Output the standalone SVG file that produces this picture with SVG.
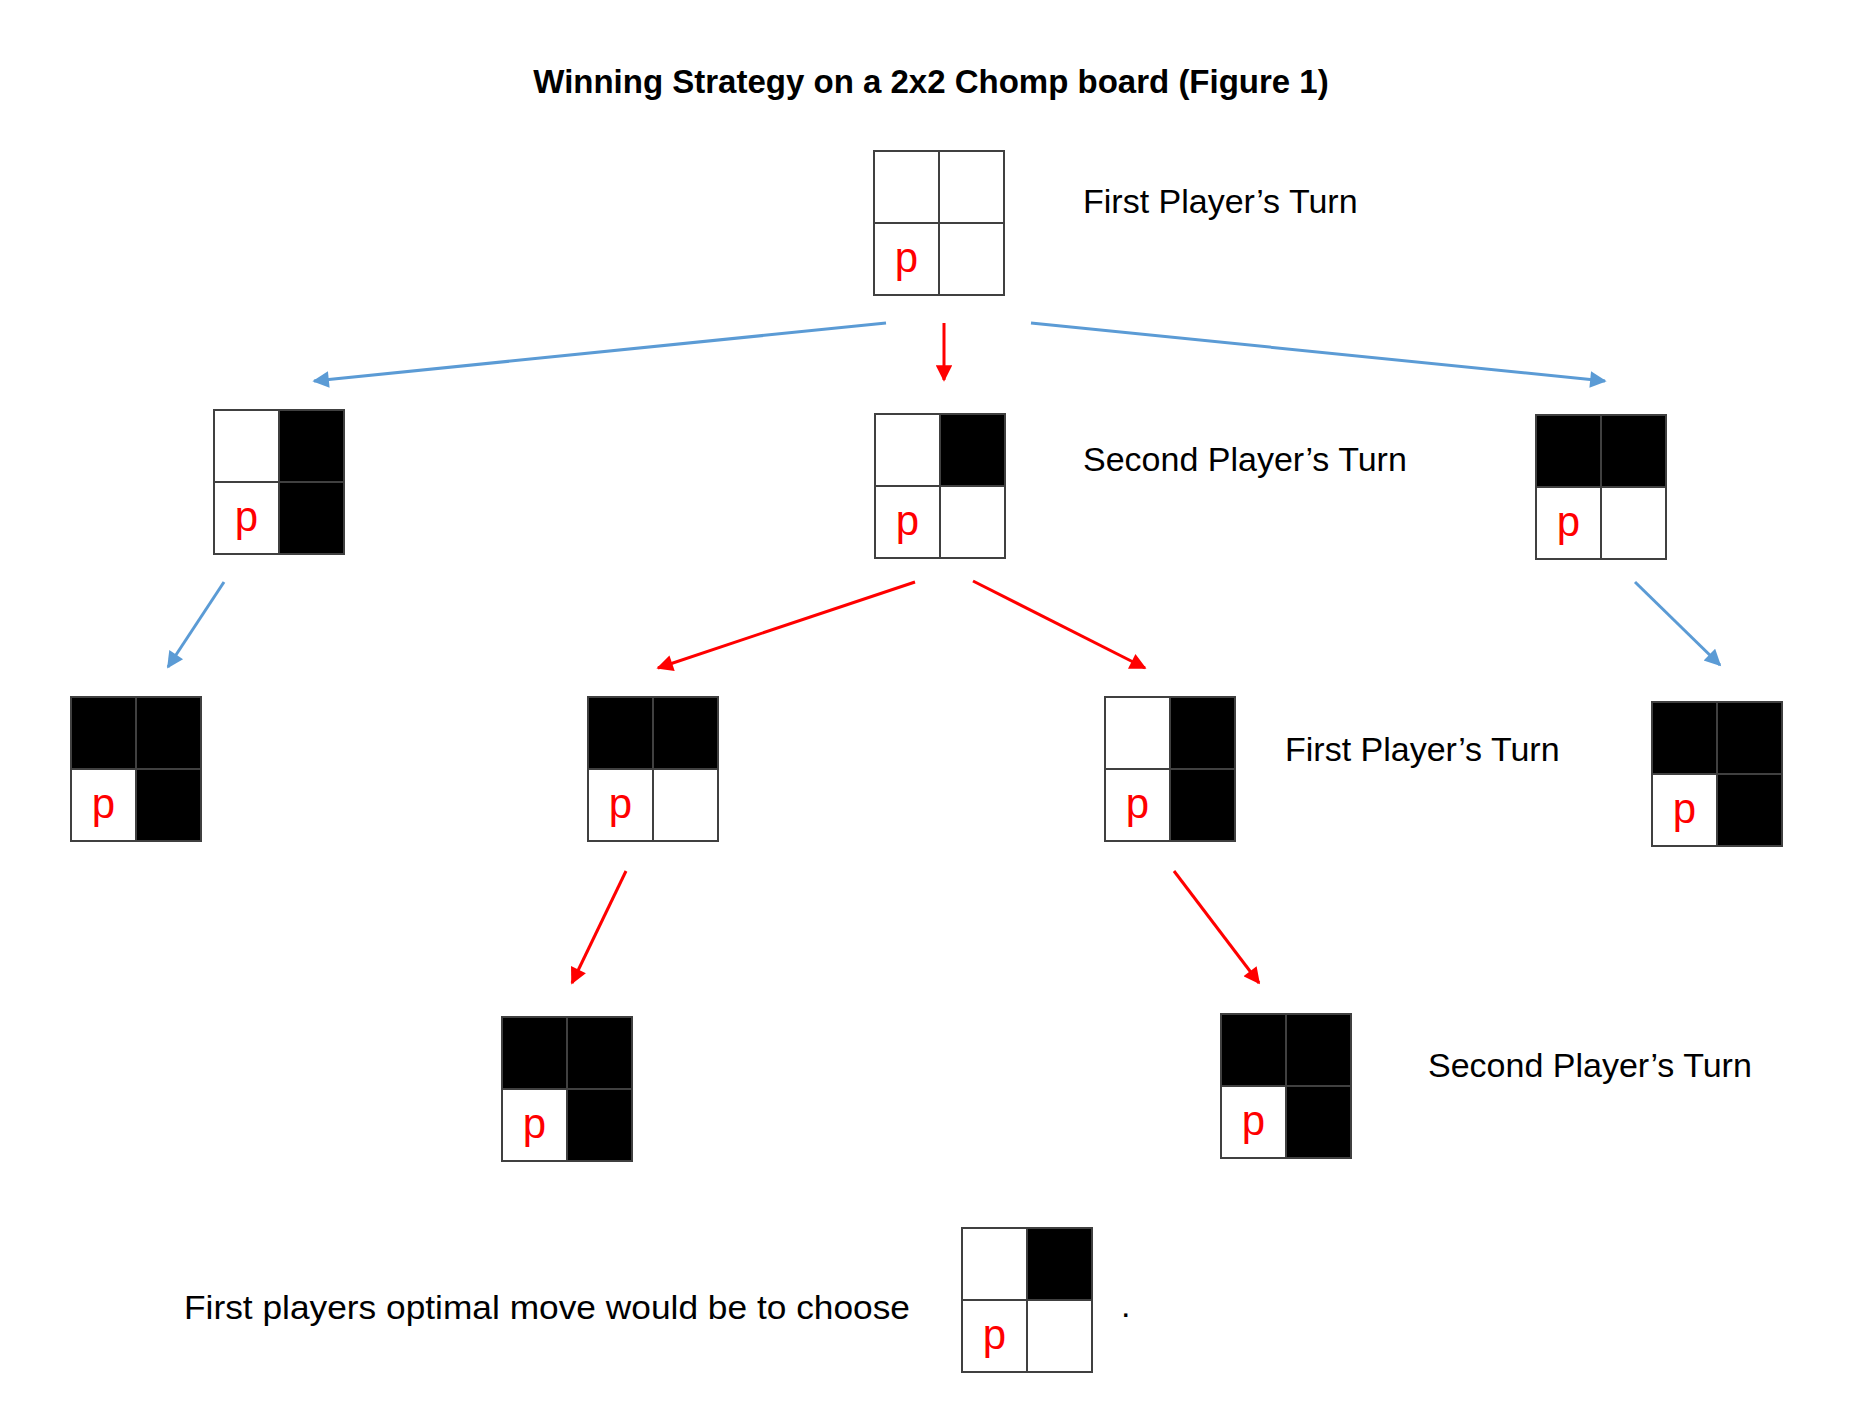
<svg xmlns="http://www.w3.org/2000/svg" width="1860" height="1410" viewBox="0 0 1860 1410">
<style>
text{font-family:"Liberation Sans",Arial,sans-serif}
.t{font-size:33px;font-weight:bold;fill:#000}
.lbl{font-size:34px;fill:#000}
.c{stroke:#404040;stroke-width:2}
.w{fill:#fff}
.k{fill:#000}
.p{font-size:42px;fill:#ff0000;text-anchor:middle}
.blue{stroke:#5B9BD5;stroke-width:3;fill:none;marker-end:url(#ab)}
.red{stroke:#ff0000;stroke-width:3;fill:none;marker-end:url(#ar)}
</style>
<defs>
<marker id="ab" viewBox="0 0 10 10" refX="9" refY="5" markerWidth="7" markerHeight="5.5" orient="auto" markerUnits="strokeWidth"><path d="M0,0 L10,5 L0,10 Z" fill="#5B9BD5"/></marker>
<marker id="ar" viewBox="0 0 10 10" refX="9" refY="5" markerWidth="7" markerHeight="5.5" orient="auto" markerUnits="strokeWidth"><path d="M0,0 L10,5 L0,10 Z" fill="#ff0000"/></marker>
</defs>
<rect width="1860" height="1410" fill="#fff"/>
<text class="t" x="931" y="93" text-anchor="middle">Winning Strategy on a 2x2 Chomp board (Figure 1)</text>

<g id="b0" transform="translate(874,151)"><rect class="c w" x="0" y="0" width="65" height="72"/><rect class="c w" x="65" y="0" width="65" height="72"/><rect class="c w" x="0" y="72" width="65" height="72"/><rect class="c w" x="65" y="72" width="65" height="72"/><text class="p" x="32.5" y="121">p</text></g>
<g id="b1" transform="translate(214,410)"><rect class="c w" x="0" y="0" width="65" height="72"/><rect class="c k" x="65" y="0" width="65" height="72"/><rect class="c w" x="0" y="72" width="65" height="72"/><rect class="c k" x="65" y="72" width="65" height="72"/><text class="p" x="32.5" y="121">p</text></g>
<g id="b2" transform="translate(875,414)"><rect class="c w" x="0" y="0" width="65" height="72"/><rect class="c k" x="65" y="0" width="65" height="72"/><rect class="c w" x="0" y="72" width="65" height="72"/><rect class="c w" x="65" y="72" width="65" height="72"/><text class="p" x="32.5" y="121">p</text></g>
<g id="b3" transform="translate(1536,415)"><rect class="c k" x="0" y="0" width="65" height="72"/><rect class="c k" x="65" y="0" width="65" height="72"/><rect class="c w" x="0" y="72" width="65" height="72"/><rect class="c w" x="65" y="72" width="65" height="72"/><text class="p" x="32.5" y="121">p</text></g>
<g id="b4" transform="translate(71,697)"><rect class="c k" x="0" y="0" width="65" height="72"/><rect class="c k" x="65" y="0" width="65" height="72"/><rect class="c w" x="0" y="72" width="65" height="72"/><rect class="c k" x="65" y="72" width="65" height="72"/><text class="p" x="32.5" y="121">p</text></g>
<g id="b5" transform="translate(588,697)"><rect class="c k" x="0" y="0" width="65" height="72"/><rect class="c k" x="65" y="0" width="65" height="72"/><rect class="c w" x="0" y="72" width="65" height="72"/><rect class="c w" x="65" y="72" width="65" height="72"/><text class="p" x="32.5" y="121">p</text></g>
<g id="b6" transform="translate(1105,697)"><rect class="c w" x="0" y="0" width="65" height="72"/><rect class="c k" x="65" y="0" width="65" height="72"/><rect class="c w" x="0" y="72" width="65" height="72"/><rect class="c k" x="65" y="72" width="65" height="72"/><text class="p" x="32.5" y="121">p</text></g>
<g id="b7" transform="translate(1652,702)"><rect class="c k" x="0" y="0" width="65" height="72"/><rect class="c k" x="65" y="0" width="65" height="72"/><rect class="c w" x="0" y="72" width="65" height="72"/><rect class="c k" x="65" y="72" width="65" height="72"/><text class="p" x="32.5" y="121">p</text></g>
<g id="b8" transform="translate(502,1017)"><rect class="c k" x="0" y="0" width="65" height="72"/><rect class="c k" x="65" y="0" width="65" height="72"/><rect class="c w" x="0" y="72" width="65" height="72"/><rect class="c k" x="65" y="72" width="65" height="72"/><text class="p" x="32.5" y="121">p</text></g>
<g id="b9" transform="translate(1221,1014)"><rect class="c k" x="0" y="0" width="65" height="72"/><rect class="c k" x="65" y="0" width="65" height="72"/><rect class="c w" x="0" y="72" width="65" height="72"/><rect class="c k" x="65" y="72" width="65" height="72"/><text class="p" x="32.5" y="121">p</text></g>
<g id="b10" transform="translate(962,1228)"><rect class="c w" x="0" y="0" width="65" height="72"/><rect class="c k" x="65" y="0" width="65" height="72"/><rect class="c w" x="0" y="72" width="65" height="72"/><rect class="c w" x="65" y="72" width="65" height="72"/><text class="p" x="32.5" y="121">p</text></g>

<g id="labels">
<text class="lbl" x="1083" y="213">First Player’s Turn</text>
<text class="lbl" x="1083" y="471">Second Player’s Turn</text>
<text class="lbl" x="1285" y="761">First Player’s Turn</text>
<text class="lbl" x="1428" y="1077">Second Player’s Turn</text>
<text class="lbl" x="184" y="1319" textLength="726" lengthAdjust="spacingAndGlyphs">First players optimal move would be to choose</text>
<text class="lbl" x="1121" y="1317">.</text>
</g>

<g id="connectors">
<line class="blue" x1="886" y1="323" x2="314" y2="381"/>
<line class="red" x1="944" y1="323" x2="944" y2="380"/>
<line class="blue" x1="1031" y1="323" x2="1605" y2="381"/>
<line class="blue" x1="224" y1="582" x2="168" y2="667"/>
<line class="red" x1="915" y1="582" x2="658" y2="668"/>
<line class="red" x1="973" y1="581" x2="1145" y2="668"/>
<line class="blue" x1="1635" y1="582" x2="1720" y2="665"/>
<line class="red" x1="626" y1="871" x2="572" y2="983"/>
<line class="red" x1="1174" y1="871" x2="1259" y2="983"/>
</g>
</svg>
